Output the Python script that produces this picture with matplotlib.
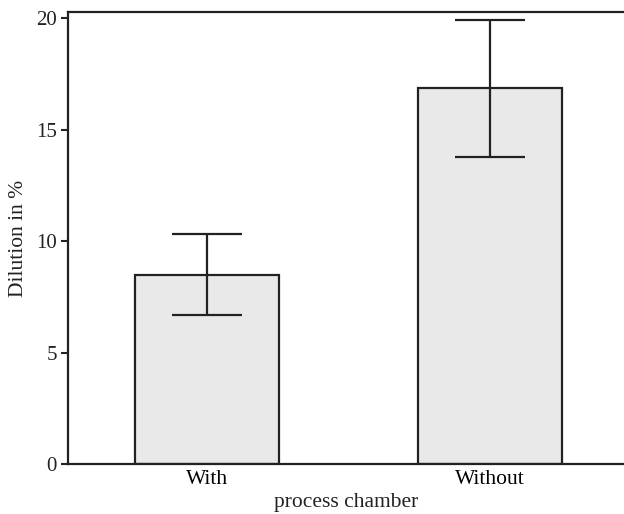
import matplotlib
matplotlib.use("Agg")
import matplotlib.pyplot as plt

# data
categories = ["With", "Without"]
means = [8.48, 16.85]
errors = [1.82, 3.07]

INK = "#222222"
FILL = "#e9e9e9"

plt.rcParams["font.family"] = ["Liberation Serif", "DejaVu Serif"]

fig = plt.figure(figsize=(6.24, 5.14), dpi=100)
ax = fig.add_axes([68 / 624, 1 - 464 / 514, 1 - 68 / 624 + 0.002, (464 - 12) / 514])

x = list(range(len(categories)))
ax.bar(x, means, width=0.51, color=FILL, edgecolor=INK, linewidth=1.6, zorder=2)
ax.errorbar(x, means, yerr=errors, fmt="none", ecolor=INK, elinewidth=1.6,
            capsize=25, capthick=1.6, zorder=3)

ax.set_xlim(-0.494, 1.48)
ax.set_ylim(0, 20.27)
ax.set_yticks([0, 5, 10, 15, 20])
ax.set_xticks(x)
ax.set_xticklabels(categories, fontsize=15.5)
ax.tick_params(axis="x", length=0, pad=4)
ax.tick_params(axis="y", direction="out", length=5, width=1.5, labelsize=15,
               color=INK, labelcolor=INK, pad=3)

for side in ["left", "bottom", "top"]:
    ax.spines[side].set_linewidth(1.6)
    ax.spines[side].set_color(INK)
ax.spines["right"].set_visible(False)

ax.set_ylabel("Dilution in %", fontsize=15.5, color=INK, labelpad=6)
ax.set_xlabel("process chamber", fontsize=15.5, color=INK, labelpad=3)

fig.savefig("out.png", dpi=100, facecolor="white")
